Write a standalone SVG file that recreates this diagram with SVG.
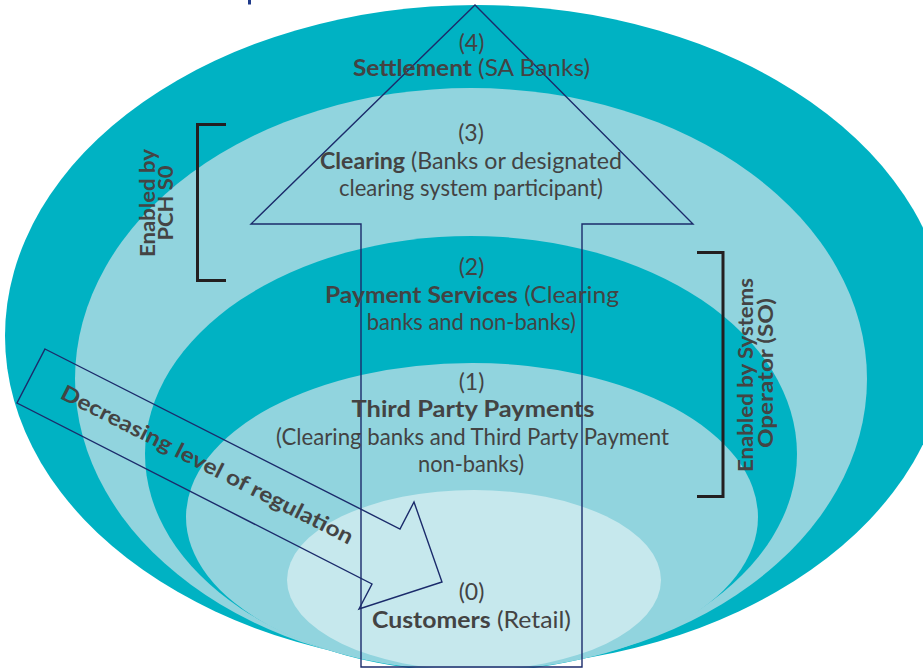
<svg xmlns="http://www.w3.org/2000/svg" width="923" height="668" viewBox="0 0 923 668">
  <style>
    .dark { fill: #00B2C3; }
    .light { fill: #91D4DE; }
    .pale { fill: #C6E8ED; }
    .lbl { font-family: Lato, "Open Sans", "Liberation Sans", sans-serif; font-size: 23px; fill: #434343; text-anchor: middle; }
    .b { font-weight: 700; }
    .side { font-family: Lato, "Open Sans", "Liberation Sans", sans-serif; font-size: 21.5px; font-weight: 700; fill: #444444; text-anchor: middle; }
    .outline { fill: none; stroke: #1B2B6B; stroke-width: 1.4; stroke-linejoin: miter; }
    .bracket { fill: none; stroke: #231F20; stroke-width: 3; }
  </style>

  <!-- title fragment at the top edge -->
  <rect x="248" y="0" width="3" height="4.5" fill="#1F3A8A"/>

  <!-- nested layers, outermost first -->
  <g id="layers">
    <ellipse id="layer-4" class="dark" cx="477" cy="336" rx="472" ry="331"/>
    <ellipse id="layer-3" class="light" cx="471" cy="379" rx="396" ry="291"/>
    <ellipse id="layer-2" class="dark" cx="471" cy="454" rx="326" ry="218"/>
    <ellipse id="layer-1" class="light" cx="472" cy="517" rx="286" ry="154"/>
    <ellipse id="layer-0" class="pale" cx="474" cy="580" rx="187" ry="90"/>
  </g>

  <!-- arrows -->
  <g id="connectors">
    <polygon id="up-arrow" class="outline" points="475,5 693,224 582,224 582,667 361,667 361,224 251,224"/>
    <polygon id="regulation-arrow" class="outline" points="45,349 400,529 414,502 442,582 359,609 372,584 17,403"/>
  </g>

  <!-- brackets with their captions -->
  <g id="pch-bracket">
    <polyline class="bracket" points="226,124.5 197.5,124.5 197.5,280.5 226,280.5"/>
    <text class="side" transform="translate(154.5,203) rotate(-90)" x="0" y="0" textLength="108" lengthAdjust="spacingAndGlyphs">Enabled by</text>
    <text class="side" transform="translate(173.3,203) rotate(-90)" x="0" y="0" textLength="75" lengthAdjust="spacingAndGlyphs">PCH S0</text>
  </g>

  <g id="so-bracket">
    <polyline class="bracket" points="697,252.5 723,252.5 723,496.5 697,496.5"/>
    <text class="side" transform="translate(753,375) rotate(-90)" x="0" y="0" textLength="194" lengthAdjust="spacingAndGlyphs">Enabled by Systems</text>
    <text class="side" transform="translate(773,373) rotate(-90)" x="0" y="0" textLength="150" lengthAdjust="spacingAndGlyphs">Operator (SO)</text>
  </g>

  <!-- layer labels -->
  <g id="settlement">
    <text class="lbl" x="471.5" y="51">(4)</text>
    <text class="lbl" x="471.5" y="76" textLength="237" lengthAdjust="spacingAndGlyphs"><tspan class="b">Settlement</tspan> (SA Banks)</text>
  </g>
  <g id="clearing">
    <text class="lbl" x="471" y="141">(3)</text>
    <text class="lbl" x="471" y="169" textLength="302" lengthAdjust="spacingAndGlyphs"><tspan class="b">Clearing</tspan> (Banks or designated</text>
    <text class="lbl" x="471" y="196" textLength="264" lengthAdjust="spacingAndGlyphs">clearing system participant)</text>
  </g>
  <g id="payment-services">
    <text class="lbl" x="471.5" y="275">(2)</text>
    <text class="lbl" x="472" y="302.5" textLength="294" lengthAdjust="spacingAndGlyphs"><tspan class="b">Payment Services</tspan> (Clearing</text>
    <text class="lbl" x="471.3" y="330" textLength="209" lengthAdjust="spacingAndGlyphs">banks and non-banks)</text>
  </g>
  <g id="third-party">
    <text class="lbl" x="471.5" y="390">(1)</text>
    <text class="lbl b" x="473" y="417" textLength="243" lengthAdjust="spacingAndGlyphs">Third Party Payments</text>
    <text class="lbl" x="472.5" y="445" textLength="393" lengthAdjust="spacingAndGlyphs">(Clearing banks and Third Party Payment</text>
    <text class="lbl" x="471" y="472" textLength="106" lengthAdjust="spacingAndGlyphs">non-banks)</text>
  </g>
  <g id="customers">
    <text class="lbl" x="471.5" y="600">(0)</text>
    <text class="lbl" x="471.5" y="628" textLength="199" lengthAdjust="spacingAndGlyphs"><tspan class="b">Customers</tspan> (Retail)</text>
  </g>

  <!-- caption along the diagonal arrow -->
  <g id="regulation-caption">
    <text class="side" transform="translate(207,465) rotate(26.9)" x="0" y="7" font-size="20" textLength="325" lengthAdjust="spacingAndGlyphs">Decreasing level of regulation</text>
  </g>
</svg>
